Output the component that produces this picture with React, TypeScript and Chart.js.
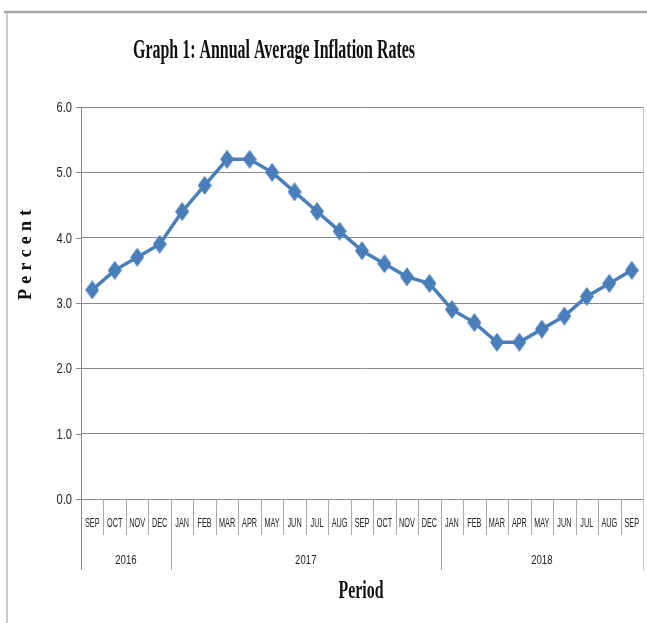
import React, { useEffect, useRef } from "react";
import { Chart, registerables } from "chart.js";

Chart.register(...registerables);

const months = [
  "SEP", "OCT", "NOV", "DEC",
  "JAN", "FEB", "MAR", "APR", "MAY", "JUN", "JUL", "AUG", "SEP", "OCT", "NOV", "DEC",
  "JAN", "FEB", "MAR", "APR", "MAY", "JUN", "JUL", "AUG", "SEP",
];
const yearLabels = ["2016", "2017", "2018"];
const yearSpans = [4, 12, 9];
const inflation = [
  3.2, 3.5, 3.7, 3.9,
  4.4, 4.8, 5.2, 5.2, 5.0, 4.7, 4.4, 4.1, 3.8, 3.6, 3.4, 3.3,
  2.9, 2.7, 2.4, 2.4, 2.6, 2.8, 3.1, 3.3, 3.5,
];
const yTicks = [0, 1, 2, 3, 4, 5, 6];
const titleText = "Graph 1: Annual Average Inflation Rates";
const xTitle = "Period";
const yTitle = "Percent";

const LINE = "#4A7EBB";
const GRID = "#8a8a8a";
const SEP_COL = "#a8a8a8";

function makeDiamond(): HTMLCanvasElement {
  const c = document.createElement("canvas");
  const w = 14, h = 19;
  c.width = w;
  c.height = h;
  const g = c.getContext("2d")!;
  g.fillStyle = LINE;
  g.beginPath();
  g.moveTo(w / 2, 0);
  g.lineTo(w, h / 2);
  g.lineTo(w / 2, h);
  g.lineTo(0, h / 2);
  g.closePath();
  g.fill();
  return c;
}

function drawText(
  ctx: CanvasRenderingContext2D,
  text: string,
  x: number,
  y: number,
  font: string,
  sx: number,
  align: CanvasTextAlign,
  baseline: CanvasTextBaseline,
  color: string
) {
  ctx.save();
  ctx.font = font;
  ctx.fillStyle = color;
  ctx.textAlign = align;
  ctx.textBaseline = baseline;
  ctx.translate(x, y);
  ctx.scale(sx, 1);
  ctx.fillText(text, 0, 0);
  ctx.restore();
}

function fitScale(ctx: CanvasRenderingContext2D, text: string, font: string, target: number) {
  ctx.save();
  ctx.font = font;
  const w = ctx.measureText(text).width;
  ctx.restore();
  return w > 0 ? target / w : 1;
}

const decorPlugin = {
  id: "decor",
  afterDraw(chart: any) {
    const ctx: CanvasRenderingContext2D = chart.ctx;
    const area = chart.chartArea;
    const xs = chart.scales.x;
    const ys = chart.scales.y;
    const labelBottom = 535;
    const yearBottom = 570;

    ctx.save();
    // outer frame
    ctx.strokeStyle = "#a6a6a6";
    ctx.lineWidth = 2.5;
    ctx.beginPath();
    ctx.moveTo(4, 12);
    ctx.lineTo(647, 12);
    ctx.stroke();
    ctx.strokeStyle = "#bdbdbd";
    ctx.lineWidth = 1.5;
    ctx.beginPath();
    ctx.moveTo(7, 12);
    ctx.lineTo(7, 623);
    ctx.stroke();

    // plot right border
    ctx.strokeStyle = "#c4c4c4";
    ctx.lineWidth = 1;
    ctx.beginPath();
    ctx.moveTo(area.right + 0.5, area.top);
    ctx.lineTo(area.right + 0.5, yearBottom);
    ctx.stroke();

    // y axis line extension
    ctx.strokeStyle = GRID;
    ctx.beginPath();
    ctx.moveTo(area.left + 0.5, area.top);
    ctx.lineTo(area.left + 0.5, yearBottom);
    ctx.stroke();

    // y tick marks + labels
    const yFont = "15px 'Liberation Sans', Arial, sans-serif";
    yTicks.forEach((v) => {
      const py = Math.round(ys.getPixelForValue(v)) + 0.5;
      ctx.strokeStyle = GRID;
      ctx.beginPath();
      ctx.moveTo(area.left - 5, py);
      ctx.lineTo(area.left, py);
      ctx.stroke();
      drawText(ctx, v.toFixed(1), 72, py, yFont, 0.74, "right", "middle", "#222");
    });

    // month separators + labels
    const half = (xs.getPixelForValue(1) - xs.getPixelForValue(0)) / 2;
    ctx.strokeStyle = SEP_COL;
    for (let i = 1; i < months.length; i++) {
      const bx = Math.round(xs.getPixelForValue(i) - half) + 0.5;
      ctx.beginPath();
      ctx.moveTo(bx, area.bottom);
      ctx.lineTo(bx, labelBottom);
      ctx.stroke();
    }
    const mFont = "13px 'Liberation Sans', Arial, sans-serif";
    months.forEach((m, i) => {
      drawText(ctx, m, xs.getPixelForValue(i), 523, mFont, 0.56, "center", "middle", "#222");
    });

    // year separators + labels
    const yFontYear = "13px 'Liberation Sans', Arial, sans-serif";
    let start = 0;
    yearLabels.forEach((yl, k) => {
      const end = start + yearSpans[k];
      const x0 = xs.getPixelForValue(start) - half;
      const x1 = xs.getPixelForValue(end - 1) + half;
      if (k > 0) {
        const bx = Math.round(x0) + 0.5;
        ctx.strokeStyle = SEP_COL;
        ctx.beginPath();
        ctx.moveTo(bx, area.bottom);
        ctx.lineTo(bx, yearBottom);
        ctx.stroke();
      }
      drawText(ctx, yl, (x0 + x1) / 2, 560, yFontYear, 0.74, "center", "middle", "#222");
      start = end;
    });

    // title
    const tFont = "bold 28px 'Liberation Serif', 'Times New Roman', serif";
    const tsx = fitScale(ctx, titleText, tFont, 282);
    drawText(ctx, titleText, 274, 58, tFont, tsx, "center", "alphabetic", "#111");

    // x title
    const pFont = "bold 26px 'Liberation Serif', 'Times New Roman', serif";
    const psx = fitScale(ctx, xTitle, pFont, 45);
    drawText(ctx, xTitle, 361, 598, pFont, psx, "center", "alphabetic", "#111");

    // y title (rotated, letter-spaced)
    const yfFont = "bold 18px 'Liberation Serif', 'Times New Roman', serif";
    ctx.save();
    ctx.font = yfFont;
    const w0 = ctx.measureText(yTitle).width;
    const spacing = Math.max(0, (90 - w0) / (yTitle.length - 1));
    ctx.translate(31, 255);
    ctx.rotate(-Math.PI / 2);
    ctx.fillStyle = "#111";
    ctx.textBaseline = "alphabetic";
    ctx.textAlign = "left";
    let cx = -45;
    for (const ch of yTitle) {
      ctx.fillText(ch, cx, 0);
      cx += ctx.measureText(ch).width + spacing;
    }
    ctx.restore();

    ctx.restore();
  },
};

export default function App() {
  const ref = useRef<HTMLCanvasElement | null>(null);

  useEffect(() => {
    document.body.style.margin = "0";
    const canvas = ref.current;
    if (!canvas) return;
    const diamond = makeDiamond();
    const chart = new Chart(canvas, {
      type: "line",
      data: {
        labels: months.map((m, i) => `${m}-${i}`),
        datasets: [
          {
            data: inflation,
            borderColor: LINE,
            backgroundColor: LINE,
            borderWidth: 3.5,
            tension: 0,
            pointStyle: diamond as any,
            pointRadius: 8,
            clip: false as any,
          },
        ],
      },
      options: {
        responsive: false,
        animation: false,
        events: [],
        layout: { autoPadding: false, padding: { left: 0, top: 107, right: 4, bottom: 0 } },
        plugins: {
          legend: { display: false },
          title: { display: false },
          tooltip: { enabled: false },
        },
        scales: {
          x: {
            type: "category",
            offset: true,
            grid: { display: false },
            border: { display: false },
            ticks: { display: false },
            afterFit: (s: any) => {
              s.height = 124;
            },
          },
          y: {
            min: 0,
            max: 6,
            ticks: { display: false, stepSize: 1 },
            grid: { color: GRID, lineWidth: 1, drawTicks: false },
            border: { display: true, color: GRID },
            afterFit: (s: any) => {
              s.width = 81;
            },
          },
        },
      },
      plugins: [decorPlugin],
    });
    return () => chart.destroy();
  }, []);

  return (
    <div style={{ width: 647, height: 623, background: "#fff" }}>
      <canvas ref={ref} width={647} height={623} style={{ display: "block" }} />
    </div>
  );
}
